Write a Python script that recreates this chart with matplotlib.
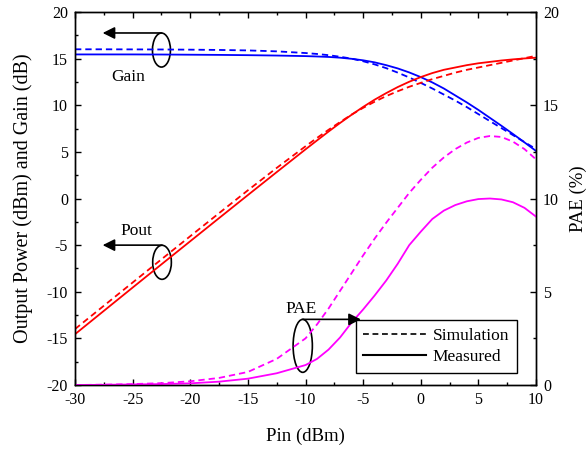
import matplotlib
matplotlib.use("Agg")
import matplotlib.pyplot as plt
from matplotlib.patches import Ellipse
from matplotlib.lines import Line2D
from matplotlib.ticker import MultipleLocator

plt.rcParams['font.family'] = ['Liberation Serif', 'DejaVu Serif']
plt.rcParams['axes.unicode_minus'] = False

# Input power sweep (dBm)
pin = [-30, -27.5, -25, -22.5, -20, -17.5, -15, -12.5, -10, -9, -8, -7, -6, -5, -4,
       -3, -2, -1, 0, 1, 2, 3, 4, 5, 6, 7, 8, 9, 10]

# Gain (dB)
gain_sim = [16.0, 16.0, 15.99, 15.98, 15.96, 15.93, 15.88, 15.78, 15.6, 15.5, 15.37,
            15.2, 15.0, 14.72, 14.38, 13.98, 13.5, 12.98, 12.4, 11.8, 11.15, 10.5,
            9.8, 9.05, 8.3, 7.55, 6.8, 6.05, 5.3]
gain_meas = [15.45, 15.45, 15.45, 15.44, 15.42, 15.40, 15.37, 15.33, 15.27, 15.23,
             15.18, 15.10, 14.98, 14.82, 14.6, 14.3, 13.95, 13.52, 13.02, 12.45,
             11.8, 11.05, 10.3, 9.5, 8.65, 7.8, 6.92, 6.02, 5.1]

# Output power (dBm)
pout_sim = [-14.0, -11.5, -9.01, -6.52, -4.04, -1.57, 0.88, 3.28, 5.6, 6.5, 7.37,
            8.2, 9.0, 9.72, 10.38, 10.98, 11.5, 11.98, 12.4, 12.8, 13.15, 13.5,
            13.8, 14.05, 14.3, 14.55, 14.8, 15.05, 15.3]
pout_meas = [-14.55, -12.05, -9.55, -7.06, -4.58, -2.1, 0.37, 2.83, 5.27, 6.23, 7.18,
             8.1, 8.98, 9.82, 10.6, 11.3, 11.95, 12.52, 13.02, 13.45, 13.8, 14.05,
             14.3, 14.5, 14.65, 14.8, 14.92, 15.02, 15.1]

# Power-added efficiency (%)
pae_sim = [0.0, 0.02, 0.05, 0.1, 0.2, 0.38, 0.7, 1.4, 2.5, 3.25, 4.1, 5.05, 6.0,
           6.95, 7.85, 8.7, 9.5, 10.3, 11.0, 11.65, 12.2, 12.65, 13.0, 13.25, 13.35,
           13.3, 13.05, 12.65, 12.1]
pae_meas = [0.0, 0.01, 0.03, 0.05, 0.09, 0.18, 0.34, 0.63, 1.07, 1.4, 1.9, 2.55, 3.35,
            4.05, 4.8, 5.6, 6.5, 7.5, 8.22, 8.9, 9.35, 9.65, 9.85, 9.97, 10.0, 9.95,
            9.8, 9.5, 9.03]

dash = (0, (3.5, 2.2))
lw = 1.3

fig = plt.figure(figsize=(5.87, 4.51), dpi=100)
ax = fig.add_axes([0.1278, 0.1463, 0.7853, 0.8271])
ax2 = ax.twinx()

ax.plot(pin, gain_sim, color='#0000ff', lw=lw, ls=dash)
ax.plot(pin, gain_meas, color='#0000ff', lw=lw)
ax.plot(pin, pout_sim, color='#ff0000', lw=lw, ls=dash)
ax.plot(pin, pout_meas, color='#ff0000', lw=lw)
ax2.plot(pin, pae_sim, color='#ff00ff', lw=lw, ls=dash)
ax2.plot(pin, pae_meas, color='#ff00ff', lw=lw)

ax.set_xlim(-30, 10)
ax.set_ylim(-20, 20)
ax2.set_ylim(0, 20)

for a in (ax, ax2):
    a.xaxis.set_major_locator(MultipleLocator(5))
    a.xaxis.set_minor_locator(MultipleLocator(2.5))
    a.yaxis.set_major_locator(MultipleLocator(5))
    a.yaxis.set_minor_locator(MultipleLocator(2.5))
    for s in a.spines.values():
        s.set_linewidth(1.0)

ax.tick_params(which='both', direction='in', top=True, right=False, labelsize=11.5,
               width=1.0, pad=5)
ax.tick_params(which='major', length=4.5)
ax.tick_params(which='minor', length=2.5)
ax2.tick_params(which='both', direction='in', right=True, left=False, labelsize=11.5,
                width=1.0, pad=5)
ax2.tick_params(which='major', length=4.5)
ax2.tick_params(which='minor', length=2.5)

ax.set_xlabel('Pin (dBm)', fontsize=13.5, labelpad=14)
ax.set_ylabel('Output Power (dBm) and Gain (dB)', fontsize=14.5, labelpad=10)
ax2.set_ylabel('PAE (%)', fontsize=13.5, labelpad=8)

arrow = dict(arrowstyle='-|>', color='black', lw=1.2, mutation_scale=18,
             shrinkA=0, shrinkB=0)

# Gain marker
ax.add_patch(Ellipse((-22.5, 15.92), 1.56, 3.65, fill=False, ec='black', lw=1.2))
ax.annotate('', xy=(-27.6, 17.75), xytext=(-22.5, 17.75), arrowprops=arrow)
ax.text(-25.35, 13.08, 'Gain', fontsize=12.5, ha='center', va='center')

# Pout marker
ax.add_patch(Ellipse((-22.45, -6.84), 1.62, 3.65, fill=False, ec='black', lw=1.2))
ax.annotate('', xy=(-27.6, -5.0), xytext=(-22.45, -5.0), arrowprops=arrow)
ax.text(-24.7, -3.49, 'Pout', fontsize=12.5, ha='center', va='center')

# PAE marker
ax2.add_patch(Ellipse((-10.24, 2.1), 1.67, 2.84, fill=False, ec='black', lw=1.2))
ax2.annotate('', xy=(-5.2, 3.52), xytext=(-10.24, 3.52), arrowprops=arrow)
ax2.text(-10.4, 4.05, 'PAE', fontsize=12.5, ha='center', va='center')

handles = [Line2D([], [], color='black', lw=1.2, ls=(0, (3.5, 2.2))),
           Line2D([], [], color='black', lw=1.5)]
leg = ax2.legend(handles, ['Simulation', 'Measured'], loc='lower right',
                 bbox_to_anchor=(0.959, 0.032), borderaxespad=0, fontsize=12.5,
                 fancybox=False, framealpha=1, edgecolor='black', handlelength=3.6,
                 handletextpad=0.4, borderpad=0.45, labelspacing=0.3)
leg.get_frame().set_linewidth(1.0)

fig.savefig('out.png', dpi=100)
